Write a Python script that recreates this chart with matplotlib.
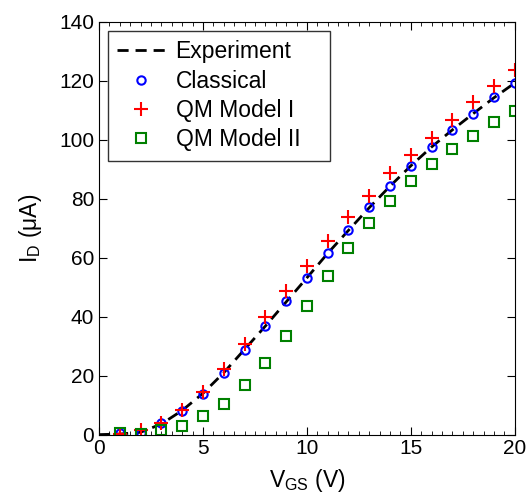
import matplotlib
matplotlib.use("Agg")
import matplotlib.pyplot as plt
from matplotlib.ticker import MultipleLocator

plt.rcParams['font.family'] = ['Liberation Sans', 'DejaVu Sans']
plt.rcParams['mathtext.fontset'] = 'custom'
plt.rcParams['mathtext.rm'] = 'Liberation Sans'

# Экспериментальная кривая
vgs_exp = [0, 1, 2, 3, 4, 5, 6, 7, 8, 9, 10, 11, 12, 13, 14, 15, 16, 17, 18, 19, 20]
id_exp = [0, 0.2, 0.8, 3.6, 8.2, 14.0, 21.0, 28.9, 36.8, 45.0, 53.2, 61.5,
          69.3, 77.0, 84.3, 91.2, 97.6, 103.4, 108.9, 114.3, 119.3]

# Модели
vgs = [1, 2, 3, 4, 5, 6, 7, 8, 9, 10, 11, 12, 13, 14, 15, 16, 17, 18, 19, 20]
id_classical = [0.4, 0.6, 3.8, 8.0, 13.9, 20.9, 28.8, 36.7, 45.2, 53.2, 61.7,
                69.3, 77.3, 84.5, 91.1, 97.5, 103.4, 108.9, 114.4, 119.4]
id_qm1 = [0.2, 1.5, 4.0, 8.3, 14.5, 22.4, 30.8, 39.8, 48.6, 57.3, 65.7,
          73.9, 81.1, 88.6, 94.8, 100.8, 106.8, 112.7, 118.3, 123.7]
id_qm2 = [0.4, 0.2, 1.5, 3.0, 6.4, 10.5, 17.0, 24.4, 33.6, 43.8, 53.9,
          63.4, 71.9, 79.1, 86.0, 91.8, 96.9, 101.4, 106.1, 109.9]

fig = plt.figure(figsize=(5.28, 4.99), dpi=100)
ax = fig.add_axes([0.1875, 0.129, 0.7875, 0.827])

ax.plot(vgs_exp, id_exp, '--', color='black', lw=2, dashes=(4, 2.5),
        label='Experiment')
ax.plot(vgs, id_classical, 'o', ls='none', mfc='none', mec='#0000ff',
        mew=1.5, ms=6, label='Classical')
ax.plot(vgs, id_qm1, '+', ls='none', color='#ff0000', mew=1.5, ms=10,
        label='QM Model I')
ax.plot(vgs, id_qm2, 's', ls='none', mfc='none', mec='#008000',
        mew=1.5, ms=7, label='QM Model II')

ax.set_xlim(0, 20)
ax.set_ylim(0, 140)
ax.xaxis.set_major_locator(MultipleLocator(5))
ax.xaxis.set_minor_locator(MultipleLocator(0.5))
ax.yaxis.set_major_locator(MultipleLocator(20))
ax.tick_params(which='both', direction='in', top=True, right=True,
               labelsize=15)
ax.tick_params(which='major', length=6)
ax.tick_params(which='minor', length=3)
ax.tick_params(axis='y', which='minor', left=False, right=False)

ax.set_xlabel(r'$\mathregular{V_{GS}}$ (V)', fontsize=16.5, labelpad=6)
ax.set_ylabel(r'$\mathregular{I_D}$ (μA)', fontsize=16.5, labelpad=11)

# рамка легенды шире текста, как в оригинале
leg = ax.legend(loc='upper left', bbox_to_anchor=(0.0216, 0.978, 0.534, 0),
                mode='expand', borderaxespad=0, fontsize=16.5, frameon=True,
                fancybox=False, edgecolor='black', handlelength=2.1,
                labelspacing=0.28, handletextpad=0.45, borderpad=0.4)
leg.get_frame().set_linewidth(1.0)

plt.savefig('out.png', dpi=100)
